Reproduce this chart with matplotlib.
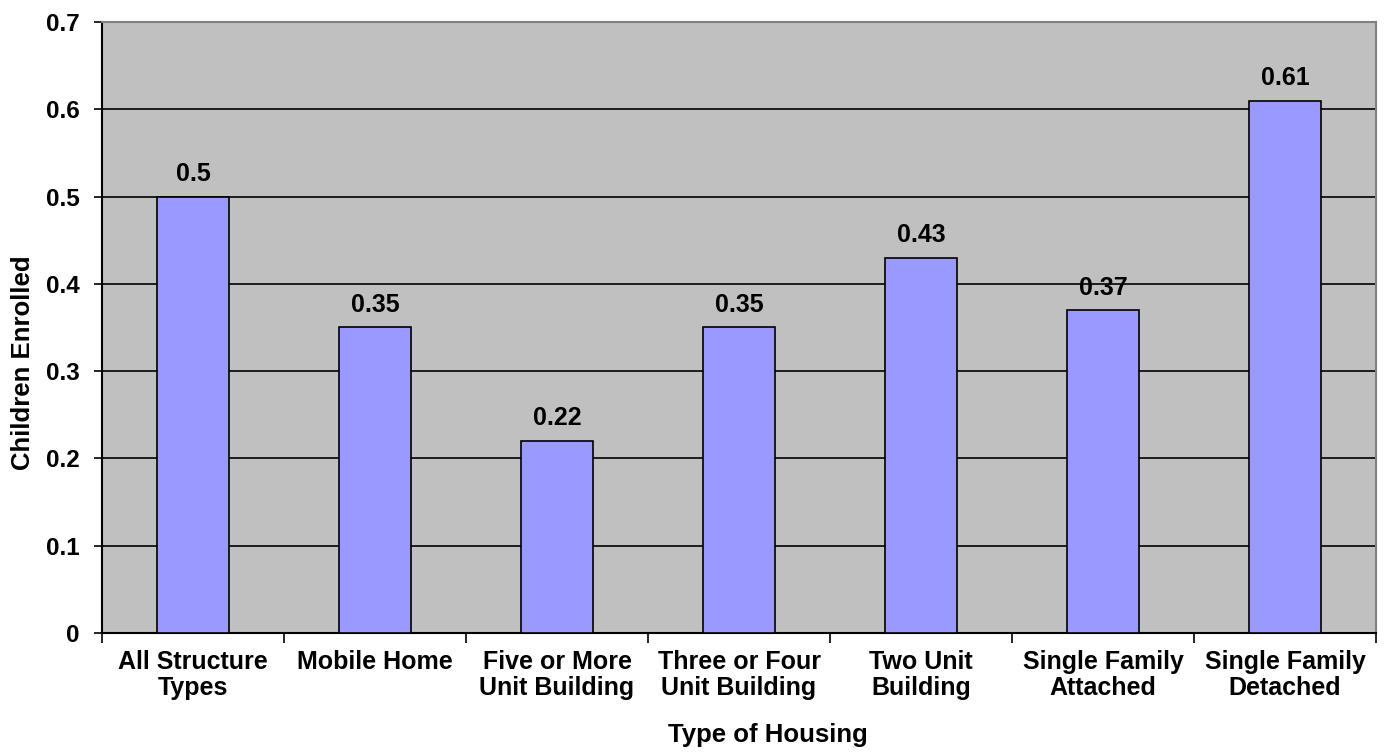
import numpy as np
import matplotlib
matplotlib.use('Agg')
import matplotlib.pyplot as plt

plt.rcParams['font.family'] = ['Liberation Sans', 'DejaVu Sans']
plt.rcParams['font.weight'] = 'bold'

housing_types = ['All Structure\nTypes', 'Mobile Home', 'Five or More\nUnit Building',
                 'Three or Four\nUnit Building', 'Two Unit\nBuilding',
                 'Single Family\nAttached', 'Single Family\nDetached']
enrolled = [0.5, 0.35, 0.22, 0.35, 0.43, 0.37, 0.61]
y_ticks = [0, 0.1, 0.2, 0.3, 0.4, 0.5, 0.6, 0.7]

fig = plt.figure(figsize=(13.88, 7.55), dpi=100)
ax = fig.add_axes([0.0735, 0.1616, 0.9179, 0.8093])
ax.set_facecolor('#C0C0C0')

x = np.arange(len(enrolled))
ax.bar(x, enrolled, width=0.4, color='#9999FF', edgecolor='black', linewidth=1.2, zorder=3)
for xi, v in zip(x, enrolled):
    ax.text(xi, v + 0.012, '{0:g}'.format(v), ha='center', va='bottom',
            fontsize=18, fontweight='bold', zorder=4)

ax.set_xlim(-0.5, len(enrolled) - 0.5)
ax.set_ylim(0, 0.7)
ax.set_yticks(y_ticks)
ax.set_yticklabels(['{0:g}'.format(t) for t in y_ticks], fontsize=17.5, fontweight='bold')
for t in y_ticks[1:-1]:
    ax.axhline(t, color='black', linewidth=1.2, zorder=1)

# category labels centred, ticks between categories
ax.set_xticks(x)
ax.set_xticklabels(housing_types, fontsize=18, fontweight='bold', linespacing=1.1)
ax.tick_params(axis='x', length=0, pad=12)
ax.set_xticks(np.arange(-0.5, len(enrolled), 1), minor=True)
ax.tick_params(axis='x', which='minor', length=7, width=1.2, direction='out')
ax.tick_params(axis='y', length=6, width=1.2, pad=10)

ax.spines['left'].set_linewidth(1.5)
ax.spines['bottom'].set_linewidth(1.5)
ax.spines['top'].set_color('#808080')
ax.spines['right'].set_color('#808080')
ax.spines['top'].set_linewidth(1.5)
ax.spines['right'].set_linewidth(1.5)

# axis titles sit off-centre, placed in figure coordinates
fig.text(768 / 1388, 1 - 735 / 755, 'Type of Housing', ha='center', va='center',
         fontsize=18.5, fontweight='bold')
fig.text(23 / 1388, 1 - 363 / 755, 'Children Enrolled', ha='center', va='center',
         rotation=90, fontsize=18.5, fontweight='bold')

fig.savefig('out.png', dpi=100)
